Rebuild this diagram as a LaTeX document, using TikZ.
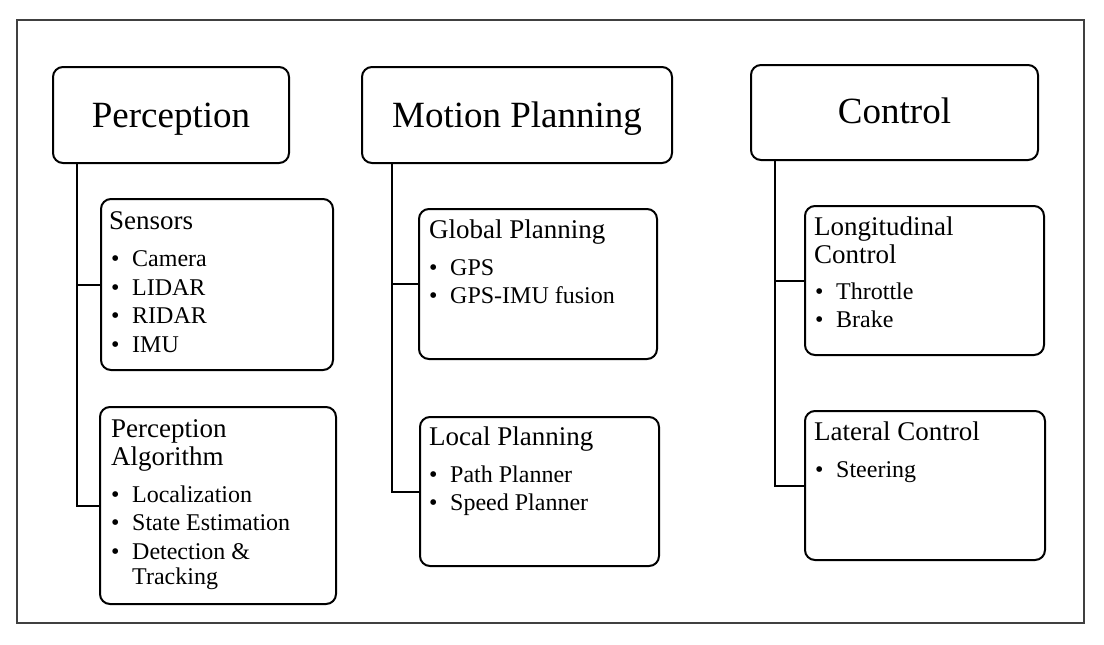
\documentclass[tikz,border=0pt]{standalone}
\usepackage{fontspec}
\setmainfont{Liberation Serif}
\usetikzlibrary{calc}
\newcommand\bul{\makebox[21pt][l]{\textbullet}}
\tikzset{
  box/.style={draw=black, line width=2pt, rounded corners=10pt, inner sep=0pt, fill=white},
  conn/.style={draw=black, line width=2pt},
  frame/.style={draw=black!75, line width=1.2pt},
  hdr/.style={font=\fontsize{37}{40}\selectfont, anchor=base, inner sep=0pt},
  ttl/.style={font=\fontsize{27}{28}\selectfont, anchor=base west, inner sep=0pt},
  itm/.style={font=\fontsize{24}{25}\selectfont, anchor=base west, inner sep=0pt}
}
\begin{document}
\begin{tikzpicture}[x=1pt,y=-1pt]
\useasboundingbox (0,0) rectangle (1104,645);
\draw[frame] (17,20) rectangle (1084,623);

% header boxes
\node[box, minimum width=236pt, minimum height=96pt] (perc) at (171,115) {};
\node[box, minimum width=310pt, minimum height=96pt] (mot) at (517,115) {};
\node[box, minimum width=287pt, minimum height=95pt] (ctl) at (894.5,112.5) {};
\node[hdr] (perc-t) at (171,127) {Perception};
\node[hdr] (mot-t) at (517,127.5) {Motion Planning};
\node[hdr] (ctl-t) at (894.5,123) {Control};

% sub boxes
\node[box, minimum width=232pt, minimum height=171pt] (sens) at (217,284.5) {};
\node[box, minimum width=236pt, minimum height=197pt] (alg) at (218,505.5) {};
\node[box, minimum width=238pt, minimum height=150pt] (glob) at (538,284) {};
\node[box, minimum width=239pt, minimum height=149pt] (loc) at (539.5,491.5) {};
\node[box, minimum width=239pt, minimum height=149pt] (lon) at (924.5,280.5) {};
\node[box, minimum width=240pt, minimum height=149pt] (lat) at (925,485.5) {};

% connectors
\coordinate (pv) at ($(perc.south west)+(25,0)$);
\coordinate (mv) at ($(mot.south west)+(31,0)$);
\coordinate (cv) at ($(ctl.south west)+(25,0)$);
\draw[conn] (pv) |- (sens.west);
\draw[conn] (pv) |- (alg.west);
\draw[conn] (mv) |- (glob.west);
\draw[conn] (mv) |- (loc.west);
\draw[conn] (cv) |- (lon.west);
\draw[conn] (cv) |- (lat.west);

% Sensors
\node[ttl] (sens-t) at (109,229) {Sensors};
\node[itm] (sens-1) at (111,266) {\bul Camera};
\node[itm] (sens-2) at (111,295) {\bul LIDAR};
\node[itm] (sens-3) at (111,323) {\bul RIDAR};
\node[itm] (sens-4) at (111,352) {\bul IMU};

% Perception Algorithm
\node[ttl] (alg-t1) at (111,437) {Perception};
\node[ttl] (alg-t2) at (111,465) {Algorithm};
\node[itm] (alg-1) at (111,502) {\bul Localization};
\node[itm] (alg-2) at (111,530) {\bul State Estimation};
\node[itm] (alg-3) at (111,559) {\bul Detection \&};
\node[itm] (alg-3b) at (132,584) {Tracking};

% Global Planning
\node[ttl] (glob-t) at (429,238) {Global Planning};
\node[itm] (glob-1) at (429,275) {\bul GPS};
\node[itm] (glob-2) at (429,303) {\bul GPS-IMU fusion};

% Local Planning
\node[ttl] (loc-t) at (429,445) {Local Planning};
\node[itm] (loc-1) at (429,482) {\bul Path Planner};
\node[itm] (loc-2) at (429,510) {\bul Speed Planner};

% Longitudinal Control
\node[ttl] (lon-t1) at (814,235) {Longitudinal};
\node[ttl] (lon-t2) at (814,263) {Control};
\node[itm] (lon-1) at (815,299) {\bul Throttle};
\node[itm] (lon-2) at (815,327) {\bul Brake};

% Lateral Control
\node[ttl] (lat-t) at (814,440) {Lateral Control};
\node[itm] (lat-1) at (815,477) {\bul Steering};
\end{tikzpicture}
\end{document}
